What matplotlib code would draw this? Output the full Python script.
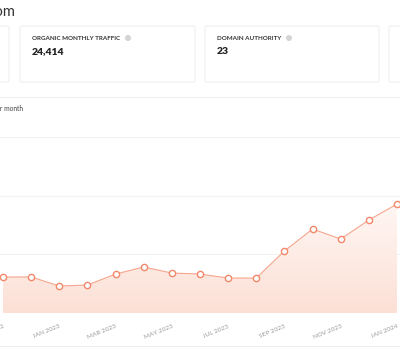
import matplotlib.pyplot as plt
import numpy as np
from matplotlib.patches import FancyBboxPatch, Circle, Polygon
from matplotlib.colors import LinearSegmentedColormap

plt.rcParams['font.family'] = ['Lato', 'DejaVu Sans']

# monthly organic traffic
months = ['NOV 2022', 'DEC 2022', 'JAN 2023', 'FEB 2023', 'MAR 2023', 'APR 2023',
          'MAY 2023', 'JUN 2023', 'JUL 2023', 'AUG 2023', 'SEP 2023', 'OCT 2023',
          'NOV 2023', 'DEC 2023', 'JAN 2024']
traffic = [6130, 6150, 4600, 4770, 6640, 7840, 6810, 6640, 5960, 5960,
           10560, 14310, 12610, 15840, 18570]

card_titles = ['ORGANIC MONTHLY TRAFFIC', 'DOMAIN AUTHORITY']
card_values = ['24,414', '23']

W, H = 400, 350
fig = plt.figure(figsize=(4, 3.5), dpi=100)
fig.patch.set_facecolor('white')

# page layer in pixel coords
bg = fig.add_axes([0, 0, 1, 1])
bg.set_xlim(0, W)
bg.set_ylim(H, 0)
bg.axis('off')

bg.text(15, 12, 'organic-site.com', ha='right', va='center', fontsize=10.5, color='#333333')

# stat cards
card_x = [(-180, 9), (20, 195), (205, 379), (389, 560)]
for x0, x1 in card_x:
    bg.add_patch(FancyBboxPatch((x0, 26), x1 - x0, 56, boxstyle='round,pad=0,rounding_size=2',
                                fc='white', ec='#f0f0f0', lw=0.8))
for (x0, x1), title, val in zip(card_x[1:3], card_titles, card_values):
    bg.text(x0 + 12, 38, title, ha='left', va='center', fontsize=4.5,
            fontweight='bold', color='#333333')
    bg.text(x0 + 12, 52, val, ha='left', va='center', fontsize=7.5,
            fontweight='heavy', color='#222222')
icon_x = [128, 289]
for ix in icon_x:
    bg.add_patch(Circle((ix, 38), 3.0, fc='#d4d4d4', ec='none'))

# chart card
bg.plot([0, W], [97, 97], color='#efefef', lw=0.8)
bg.plot([0, W], [346, 346], color='#efefef', lw=0.8)
bg.text(23, 109, 'Organic traffic per month', ha='right', va='center', fontsize=4.8, color='#444444')

ax = fig.add_axes([0, (H - 313) / H, 1, 176 / H])
ax.patch.set_alpha(0)
x = np.arange(len(months))
ax.set_xlim(-3 / 28.14, 397 / 28.14)
ax.set_ylim(0, 30000)

for g in [10000, 20000, 30000]:
    ax.axhline(g, color='#f2f2f2', lw=0.8, zorder=0)

# gradient fill under the line
grad = np.linspace(0, 1, 100).reshape(-1, 1)
cm = LinearSegmentedColormap.from_list('fill', ['#fce0d6', '#fff6f3'])
img = ax.imshow(grad, cmap=cm, aspect='auto', origin='lower',
                extent=[x[0], x[-1], 0, max(traffic)], zorder=1)
poly = Polygon(np.column_stack([np.r_[x[0], x, x[-1]], np.r_[0, traffic, 0]]),
               closed=True, fc='none', ec='none', transform=ax.transData)
ax.add_patch(poly)
img.set_clip_path(poly)

ax.plot(x, traffic, color='#f7a68e', lw=0.8, zorder=2)
ax.plot(x, traffic, 'o', ms=4.5, mfc='white', mec='#f2876a', mew=1.0, zorder=3)

ax.set_xticks(x[::2])
ax.set_xticklabels(months[::2], rotation=22, ha='right', rotation_mode='anchor',
                   fontsize=4.6, color='#999999')
ax.tick_params(axis='x', length=0, pad=8)
ax.set_yticks([])
for s in ax.spines.values():
    s.set_visible(False)

fig.savefig('out.png', dpi=100)
